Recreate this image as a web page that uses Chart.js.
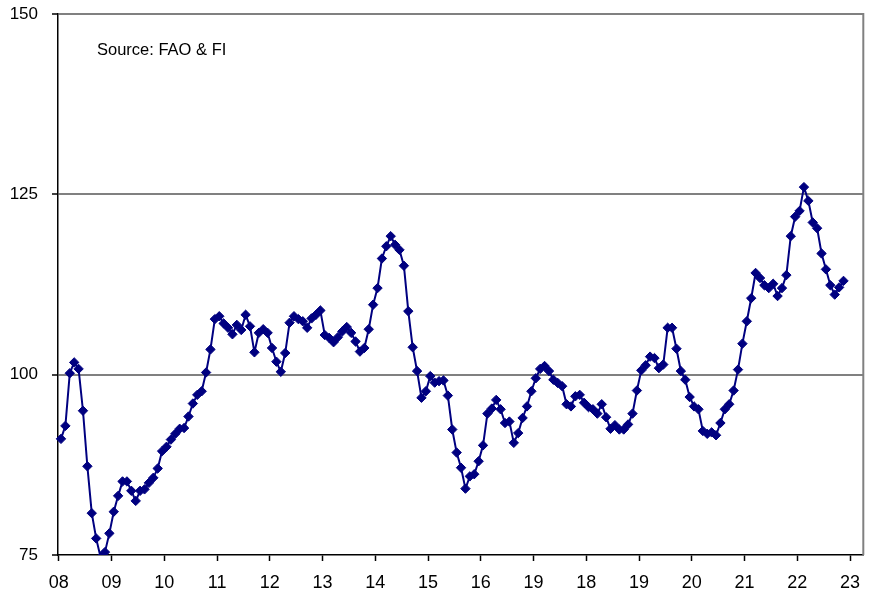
<!DOCTYPE html>
<html><head><meta charset="utf-8">
<script src="https://cdn.jsdelivr.net/npm/chart.js@4.4.1/dist/chart.umd.min.js"></script>
<style>html,body{margin:0;padding:0;background:#fff;}</style>
</head><body>
<canvas id="c" width="869" height="594"></canvas>
<script>
// Tick labels (as printed on the reference, including its "19" in place of 17)
const yearLabels = ["08","09","10","11","12","13","14","15","16","19","18","19","20","21","22","23"];
const yTicks = [75, 100, 125, 150];
const sourceNote = "Source: FAO & FI";

// Monthly index values, Jan 2008 - Nov 2022
const y2008 = [91.1, 92.9, 100.2, 101.7, 100.8, 95.0, 87.3, 80.8, 77.3, 74.7, 75.4, 78.0];
const y2009 = [81.0, 83.2, 85.2, 85.2, 83.9, 82.5, 83.9, 84.1, 85.0, 85.7, 87.0, 89.4];
const y2010 = [90.0, 91.0, 91.8, 92.5, 92.6, 94.2, 96.0, 97.2, 97.7, 100.3, 103.5, 107.7];
const y2011 = [108.1, 107.1, 106.5, 105.6, 106.9, 106.2, 108.3, 106.7, 103.1, 105.8, 106.3, 105.8];
const y2012 = [103.7, 101.8, 100.4, 103.0, 107.2, 108.1, 107.7, 107.4, 106.5, 107.8, 108.3, 108.9];
const y2013 = [105.5, 105.1, 104.5, 105.2, 106.0, 106.6, 105.8, 104.6, 103.2, 103.7, 106.3, 109.7];
const y2014 = [112.0, 116.1, 117.8, 119.2, 118.0, 117.3, 115.1, 108.8, 103.8, 100.5, 96.8, 97.7];
const y2015 = [99.8, 98.9, 99.1, 99.2, 97.1, 92.4, 89.2, 87.1, 84.2, 85.9, 86.2, 88.0];
const y2016 = [90.2, 94.6, 95.3, 96.5, 95.2, 93.3, 93.5, 90.55, 91.9, 94.0, 95.6, 97.7];
const y2017 = [99.5, 100.8, 101.2, 100.5, 99.3, 98.85, 98.4, 95.9, 95.6, 97.0, 97.2, 96.1];
const y2018 = [95.5, 95.2, 94.6, 95.9, 94.1, 92.5, 93.0, 92.4, 92.4, 93.1, 94.6, 97.8];
const y2019 = [100.6, 101.3, 102.5, 102.3, 100.9, 101.4, 106.5, 106.5, 103.6, 100.5, 99.3, 96.9];
const y2020 = [95.6, 95.2, 92.2, 91.8, 92.0, 91.6, 93.3, 95.2, 95.9, 97.8, 100.7, 104.3];
const y2021 = [107.4, 110.6, 114.1, 113.4, 112.4, 112.0, 112.6, 110.9, 112.0, 113.8, 119.2, 121.9];
const y2022 = [122.7, 126.0, 124.1, 121.1, 120.3, 116.8, 114.6, 112.4, 111.1, 112.1, 113.0];

const series = [].concat(y2008, y2009, y2010, y2011, y2012, y2013, y2014, y2015,
  y2016, y2017, y2018, y2019, y2020, y2021, y2022);
const points = series.map((v, i) => ({ x: i, y: v }));

const decor = {
  id: 'decor',
  beforeDraw(chart) {
    const c = chart.ctx;
    c.save(); c.fillStyle = '#fff'; c.fillRect(0, 0, chart.width, chart.height); c.restore();
  },
  beforeDatasetsDraw(chart) {
    const a = chart.chartArea, c = chart.ctx;
    c.save();
    c.strokeStyle = '#808080'; c.lineWidth = 2;
    c.beginPath(); c.moveTo(a.right, a.top - 1); c.lineTo(a.right, a.bottom); c.stroke();
    c.restore();
  },
  afterDraw(chart) {
    const c = chart.ctx;
    c.save();
    c.fillStyle = '#000';
    c.font = '16.5px "Liberation Sans", Arial, sans-serif';
    c.textBaseline = 'alphabetic';
    c.fillText(sourceNote, 97, 55);
    c.restore();
  }
};

new Chart(document.getElementById('c'), {
  type: 'line',
  data: {
    datasets: [{
      data: points,
      borderColor: '#000080',
      borderWidth: 2,
      pointStyle: 'rectRot',
      pointRadius: 4.7,
      pointBackgroundColor: '#000080',
      pointBorderColor: '#000080',
      pointBorderWidth: 1,
      tension: 0,
      clip: { left: 8, top: 8, right: 8, bottom: 0 }
    }]
  },
  options: {
    responsive: false,
    devicePixelRatio: 1,
    animation: false,
    layout: { padding: { top: 14, right: 3, left: 0, bottom: 0 } },
    plugins: { legend: { display: false }, tooltip: { enabled: false } },
    scales: {
      x: {
        type: 'linear',
        min: -0.68,
        max: 182.5,
        afterBuildTicks: s => { s.ticks = yearLabels.map((l, k) => ({ value: 12 * k - 0.5 })); },
        afterFit: s => { s.height = 39; s.paddingLeft = 0; s.paddingRight = 0; s.paddingTop = 0; s.paddingBottom = 0; },
        grid: { drawOnChartArea: false, tickColor: '#000', tickLength: 6, tickWidth: 1.5 },
        border: { color: '#000', width: 1.5 },
        ticks: {
          color: '#000', font: { family: '"Liberation Sans", Arial, sans-serif', size: 18 },
          padding: 11, maxRotation: 0, autoSkip: false,
          callback: (v, i) => yearLabels[i]
        }
      },
      y: {
        min: 75,
        max: 150,
        afterBuildTicks: s => { s.ticks = yTicks.map(v => ({ value: v })); },
        afterFit: s => { s.width = 58; s.paddingLeft = 0; s.paddingRight = 0; s.paddingTop = 0; s.paddingBottom = 0; },
        grid: {
          color: ctx => (ctx.tick && ctx.tick.value === 75) ? 'rgba(0,0,0,0)' : '#808080',
          lineWidth: 2, tickColor: '#000', tickLength: 6, tickWidth: 1.5
        },
        border: { color: '#000', width: 1.5 },
        ticks: { color: '#000', font: { family: '"Liberation Sans", Arial, sans-serif', size: 17 }, padding: 14 }
      }
    }
  },
  plugins: [decor]
});
</script>
</body></html>
